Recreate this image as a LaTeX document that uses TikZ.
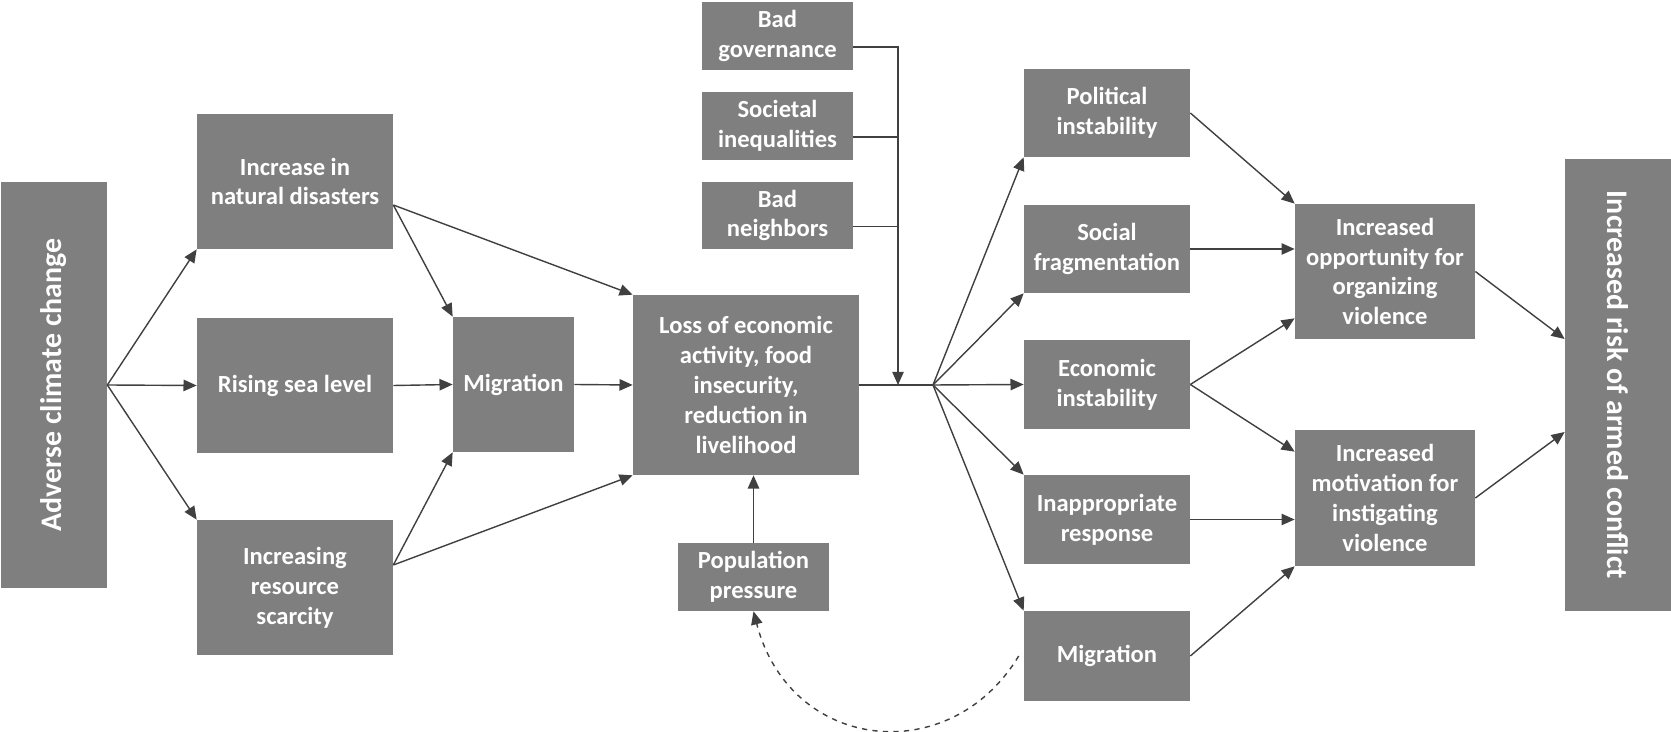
\documentclass[tikz,border=0pt]{standalone}
\usepackage{fontspec}
\setmainfont{Carlito}
\usetikzlibrary{arrows.meta,positioning}
\definecolor{boxgray}{RGB}{127,127,127}
\definecolor{linegray}{RGB}{64,64,64}

\begin{document}
\begin{tikzpicture}[x=0.02cm, y=-0.02cm,
        box/.style={fill=boxgray, text=white, align=center, inner sep=0pt, font=\bfseries\fontsize{14}{17}\selectfont},
        bigbox/.style={fill=boxgray, text=white, inner sep=0pt, font=\bfseries\fontsize{17}{20}\selectfont},
        arr/.style={draw=linegray, line width=0.8pt, -{Triangle[length=7.5pt, width=6.5pt]}},
        feed/.style={draw=linegray, line width=0.8pt}]

        \useasboundingbox (0,0) rectangle (1671,732);

        % Cause and end boxes
        \node[bigbox, minimum width=2.12cm, minimum height=8.12cm] (adverse) at (54,385) {\rotatebox{90}{Adverse climate change}};
        \node[bigbox, minimum width=2.12cm, minimum height=9.04cm] (risk) at (1618,385) {\rotatebox{-90}{Increased risk of armed conflict}};

        % First effects
        \node[box, minimum width=3.92cm, minimum height=2.7cm] (disasters) at (295,181.5) {Increase in\\natural disasters};
        \node[box, minimum width=3.92cm, minimum height=2.7cm] (sealevel) at (295,385.5) {Rising sea level};
        \node[box, minimum width=3.92cm, minimum height=2.7cm] (scarcity) at (295,587.5) {Increasing\\resource\\scarcity};
        \node[box, minimum width=2.42cm, minimum height=2.7cm] (migA) at (513.5,384.5) {Migration};

        % Livelihood and its drivers
        \node[box, minimum width=4.52cm, minimum height=3.6cm] (loss) at (746,385) {Loss of economic\\activity, food\\insecurity,\\reduction in\\livelihood};
        \node[box, minimum width=3.02cm, minimum height=1.36cm] (governance) at (777.5,36) {Bad\\governance};
        \node[box, minimum width=3.02cm, minimum height=1.36cm] (inequal) at (777.5,126) {Societal\\inequalities};
        \node[box, minimum width=3.02cm, minimum height=1.34cm] (neighbors) at (777.5,215.5) {Bad\\neighbors};
        \node[box, minimum width=3.02cm, minimum height=1.36cm] (population) at (753.5,577) {Population\\pressure};

        % Instabilities
        \node[box, minimum width=3.32cm, minimum height=1.76cm] (political) at (1107,113) {Political\\instability};
        \node[box, minimum width=3.32cm, minimum height=1.76cm] (social) at (1107,249) {Social\\fragmentation};
        \node[box, minimum width=3.32cm, minimum height=1.78cm] (economic) at (1107,384.5) {Economic\\instability};
        \node[box, minimum width=3.32cm, minimum height=1.78cm] (inappr) at (1107,519.5) {Inappropriate\\response};
        \node[box, minimum width=3.32cm, minimum height=1.8cm] (migB) at (1107,656) {Migration};

        % Violence
        \node[box, minimum width=3.6cm, minimum height=2.7cm] (opportunity) at (1385,271.5) {Increased\\opportunity for\\organizing\\violence};
        \node[box, minimum width=3.6cm, minimum height=2.72cm] (motivation) at (1385,498) {Increased\\motivation for\\instigating\\violence};

        % Left arrows
        \draw[arr] (adverse.east) -- (disasters.south west);
        \draw[arr] (adverse.east) -- (sealevel.west);
        \draw[arr] (adverse.east) -- (scarcity.north west);
        \coordinate (disout) at ([yshift=-0.47cm]disasters.east);
        \coordinate (scarout) at ([yshift=0.45cm]scarcity.east);
        \draw[arr] (disout) -- (migA.north west);
        \draw[arr] (disout) -- (loss.north west);
        \draw[arr] (sealevel.east) -- (migA.west);
        \draw[arr] (scarout) -- (migA.south west);
        \draw[arr] (scarout) -- (loss.south west);
        \draw[arr] (migA.east) -- (loss.west);
        \draw[arr] (population.north) -- (population.north |- loss.south);

        % Drivers join the main line
        \coordinate (join) at (898,385);
        \coordinate (fork) at (933,385);
        \coordinate (govout) at ([yshift=-0.22cm]governance.east);
        \coordinate (ineqout) at ([yshift=-0.22cm]inequal.east);
        \coordinate (neighout) at ([yshift=-0.22cm]neighbors.east);
        \draw[feed] (loss.east) -- (fork);
        \draw[arr] (govout) -| (join);
        \draw[feed] (ineqout) -- (ineqout -| join);
        \draw[feed] (neighout) -- (neighout -| join);

        % Fork
        \draw[arr] (fork) -- (political.south west);
        \draw[arr] (fork) -- (social.south west);
        \draw[arr] (fork) -- (economic.west);
        \draw[arr] (fork) -- (inappr.north west);
        \draw[arr] (fork) -- (migB.north west);

        % Right arrows
        \draw[arr] (political.east) -- (opportunity.north west);
        \draw[arr] (social.east) -- (social.east -| opportunity.west);
        \draw[arr] (economic.east) -- ([yshift=0.42cm]opportunity.south west);
        \draw[arr] (economic.east) -- ([yshift=-0.44cm]motivation.north west);
        \draw[arr] (inappr.east) -- (inappr.east -| motivation.west);
        \draw[arr] (migB.east) -- (motivation.south west);
        \draw[arr] (opportunity.east) -- ([yshift=0.92cm]risk.west);
        \draw[arr] (motivation.east) -- ([yshift=-0.94cm]risk.west);

        % Feedback loop
        \draw[arr, dashed] ([xshift=-0.1cm]migB.west) .. controls (950,770) and (790,752) .. (population.south);

\end{tikzpicture}
\end{document}
